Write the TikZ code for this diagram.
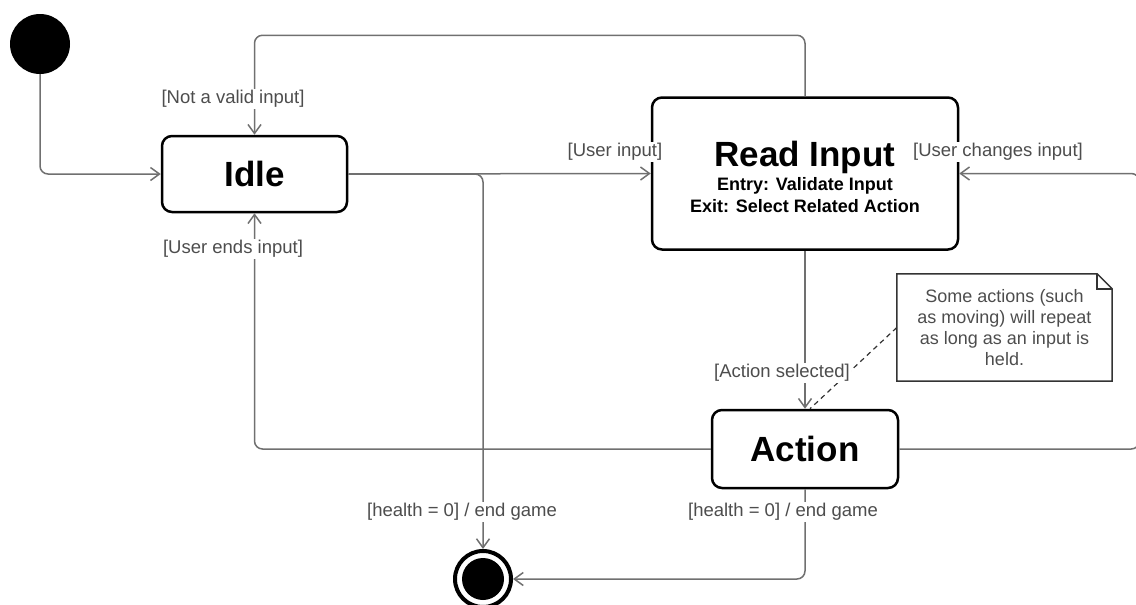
\documentclass[tikz,border=0pt]{standalone}
\usepackage{fontspec}
\setmainfont{Liberation Sans}
\usetikzlibrary{arrows.meta}
\definecolor{wire}{HTML}{707070}
\definecolor{guard}{HTML}{4D4D4D}
\definecolor{notebd}{HTML}{333333}
\newcommand\entryfont{\fontsize{18}{22}\selectfont}

\begin{document}
\begin{tikzpicture}[x=1pt,y=-1pt,>={Straight Barb[length=9pt,width=13pt]},
 state/.style={draw,line width=2.5pt,rounded corners=10pt,align=center,inner sep=0pt,
   font=\fontsize{35}{22}\selectfont\bfseries},
 trans/.style={draw=wire,line width=1.5pt,rounded corners=8pt,->},
 guardlbl/.style={text=guard,fill=white,inner sep=1pt,font=\fontsize{18.5}{21}\selectfont}]
    \useasboundingbox (0,0) rectangle (1136,605);
    \node[circle,fill=black,minimum size=60pt,inner sep=0pt] (init) at (40,44) {};
    \node[state,minimum width=185pt,minimum height=76pt] (idle) at (254.5,174) {Idle};
    \node[state,minimum width=306pt,minimum height=152pt] (rin) at (805,173.5)
        {\rule{0pt}{32pt}Read Input\\[2pt]\entryfont Entry: Validate Input\\\entryfont Exit: Select Related Action};
    \node[state,minimum width=186pt,minimum height=78pt] (act) at (805,449) {Action};
    \node[circle,draw,line width=4pt,fill=white,minimum size=56pt,inner sep=0pt] (fin) at (483,579) {};
    \fill (fin.center) circle (21pt);
    \node[text=guard,align=center,font=\fontsize{18}{21}\selectfont,minimum width=215pt,
          minimum height=107pt,inner sep=0pt] (note) at (1004.5,327.5)
        {Some actions (such\\as moving) will repeat\\as long as an input is\\held.};
    \draw[notebd,line width=1.5pt] (note.north west) -- ([xshift=-15pt]note.north east)
        -- ([yshift=-15pt]note.north east) -- (note.south east) -- (note.south west) -- cycle;
    \draw[notebd,line width=1.5pt] ([xshift=-15pt]note.north east) |- ([yshift=-15pt]note.north east);
    \draw[trans] (init) |- (idle);
    \draw[trans] (rin.north) -- ++(0,-61) -| (idle.north);
    \draw[trans] (idle.east) -- (rin.west);
    \draw[trans] (idle.east) -| (fin.north);
    \draw[trans] (rin) -- (act);
    \draw[trans] (act.west) -| (idle.south);
    \draw[trans] (act.east) -- ++(240,0) |- (rin.east);
    \draw[trans] (act.south) |- (fin.east);
    \draw[notebd,line width=1.2pt,dash pattern=on 5pt off 4pt] (note.west) -- ([xshift=5pt]act.north);
    \node[guardlbl] (gnv) at (233,99) {[Not a valid input]};
    \node[guardlbl] (gue) at (233,249) {[User ends input]};
    \node[guardlbl] (gui) at (615,152) {[User input]};
    \node[guardlbl] (guc) at (998,152) {[User changes input]};
    \node[guardlbl] (gas) at (782,373) {[Action selected]};
    \node[guardlbl] (ghi) at (462,512) {[health = 0] / end game};
    \node[guardlbl] (gha) at (783,512) {[health = 0] / end game};
\end{tikzpicture}
\end{document}
